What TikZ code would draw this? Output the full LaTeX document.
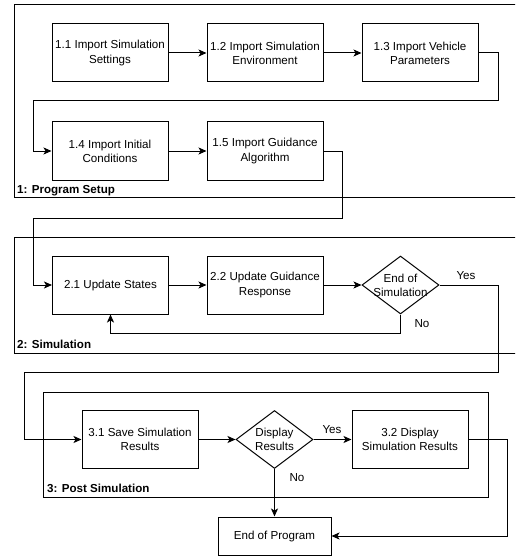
\documentclass[tikz,border=0pt]{standalone}
\usepackage{fontspec}
\setmainfont{Liberation Sans}
\usepackage{tikz}
\usetikzlibrary{shapes.geometric, arrows.meta, positioning, calc}
\definecolor{mydark}{RGB}{0,0,0}
\newcommand{\lblfont}{\fontsize{11.6}{14.2}\selectfont}
\newcommand{\cl}[1]{\makebox[0pt]{#1}}
\tikzset{
  block/.style={rectangle, draw=mydark, fill=white,
    minimum width=116pt, minimum height=58pt, align=center,
    font=\lblfont, line width=1pt, inner sep=0pt},
  endblock/.style={block, minimum width=113pt, minimum height=38pt},
  decision/.style={diamond, draw=mydark, fill=white,
    minimum width=77pt, minimum height=58pt, align=center,
    font=\lblfont, line width=1pt, inner sep=0pt},
  groupbox/.style={draw=mydark, line width=1pt},
  grouplbl/.style={anchor=base west, inner sep=0pt, font=\lblfont\bfseries},
  edgelbl/.style={inner sep=0pt, font=\lblfont},
  arrow/.style={-{Stealth[length=8pt, width=7pt, inset=2pt]}, line width=1pt, color=mydark},
  line/.style={line width=1pt, color=mydark}
}

\begin{document}
\begin{tikzpicture}[x=1pt, y=-1pt]
  \clip (0,0) rectangle (515,559);
  % Groups
  \draw[groupbox] (14,5) rectangle (530,197);
  \draw[groupbox] (14,237) rectangle (530,353);
  \draw[groupbox] (43,392) rectangle (488,497);
  \node[grouplbl] (lbl1) at (17,193) {1: Program Setup};
  \node[grouplbl] (lbl2) at (17,348) {2: Simulation};
  \node[grouplbl] (lbl3) at (47,492) {3: Post Simulation};
  % 1: Program Setup
  \node[block] (s11) at (110,53) {1.1 Import Simulation\\Settings};
  \node[block] (s12) at (265,53) {1.2 Import Simulation\\Environment};
  \node[block] (s13) at (420,53) {1.3 Import Vehicle\\Parameters};
  \node[block] (s14) at (110,151) {1.4 Import Initial\\Conditions};
  \node[block] (s15) at (265,151) {1.5 Import Guidance\\Algorithm};
  % 2: Simulation
  \node[block] (s21) at (110.5,285) {2.1 Update States};
  \node[block] (s22) at (265,285) {2.2 Update Guidance\\Response};
  \node[decision] (endsim) at (400.5,285) {\cl{End of}\\\cl{Simulation}};
  % 3: Post Simulation
  \node[block] (s31) at (140,439.5) {3.1 Save Simulation\\Results};
  \node[decision] (disp) at (274.5,439.5) {\cl{Display}\\\cl{Results}};
  \node[block] (s32) at (410,439.5) {3.2 Display\\Simulation Results};
  \node[endblock] (endprog) at (274.5,536) {End of Program};
  % Connectors
  \draw[arrow] (s11) -- (s12);
  \draw[arrow] (s12) -- (s13);
  \draw[arrow] (s13.east) -| (498,101) -| (33,151) -- (s14.west);
  \draw[arrow] (s14) -- (s15);
  \draw[arrow] (s15.east) -| (342,218) -| (33,285) -- (s21.west);
  \draw[arrow] (s21) -- (s22);
  \draw[arrow] (s22) -- (endsim);
  \draw[arrow] (endsim.east) -| (498,372) -| (24,439.5) -- (s31.west);
  \node[edgelbl] (yes1) at (466,276) {Yes};
  \draw[arrow] (endsim.south) -- ++(0,19) -| (s21.south);
  \node[edgelbl] (no1) at (422,324) {No};
  \draw[arrow] (s31) -- (disp);
  \draw[arrow] (disp) -- (s32);
  \node[edgelbl] (yes2) at (332,430) {Yes};
  \draw[arrow] (disp.south) -- (endprog.north);
  \node[edgelbl] (no2) at (297,478) {No};
  \draw[arrow] (s32.east) -| (507,536) -- (endprog.east);
\end{tikzpicture}
\end{document}
